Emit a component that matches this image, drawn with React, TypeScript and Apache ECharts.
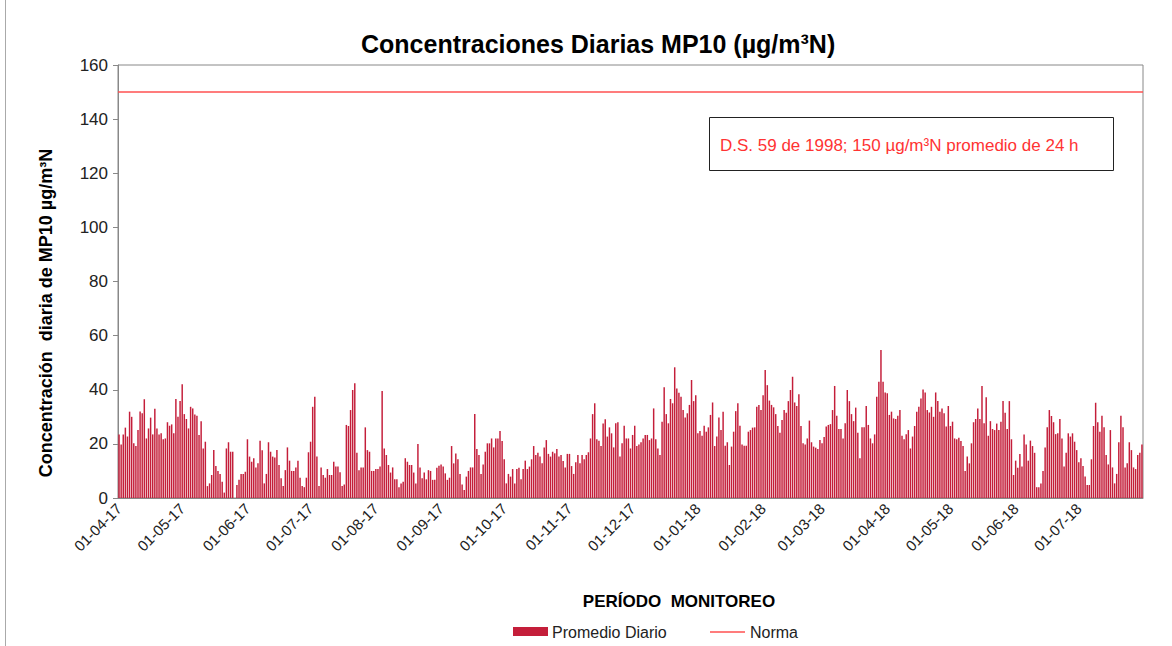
import React, { useEffect, useRef } from "react";
import * as echarts from "echarts";

// Daily PM10 values (µg/m³N), 01-04-2017 .. 31-07-2018
const APR_MAY_17 = [23.5,19.8,23.5,26,22.7,31.9,30,20.2,19.2,25.1,32,31.3,36.5,22,25.7,29.7,23.5,33,25.7,23.5,23.9,21.7,22,28,26.7,27.2,23.9,36.6,30,35.8,42,31,29.2,25.7,33.7,33.1,30.9,30.4,23.3,28.4,18.3,20.8,4.4];
const MAY_JUN_17 = [5.4,8.5,17.7,11.8,10,8.9,6,2,18.3,20.6,17.1,17.1,0,4.8,6.7,8.9,8.9,9.7,21.7,15.3,13.4,14.7,11.3,12.8,21.2,17.6,5.4,8.9,20.6,17.1,15.3,15,17.7,12.2,7.3,4.4,10.3,18.7,13.8,10,10,11.3,13.8,7.5];
const JUN_AUG_17 = [4.4,4,7.5,16.9,20.8,33.7,37.4,15.3,4.4,11.3,8.5,7.5,10.7,8.5,8.5,13.4,11.6,11.6,9.5,4.4,5,27,26.6,32.5,39.9,42.4,16.7,10.3,11.3,11.3,26.1,17.7,17.1,10,10,10.7,10.7,11.6,39.5,18.3,15.9,12.2,9.4,11.3,6.9];
const AUG_SEP_17 = [6.9,4,5.4,6,14.7,13.4,12.2,12.2,9.4,5.4,20,11.3,7.3,9.4,6.9,10.3,10,6.7,6.7,11.2,11.9,12.4,11.6,9.1,6.7,7.5,19.2,12.8,16.4,14.3,8.9,5,3,7.9,10,11.3,11.3,31,18.1,15.9,8.9,12.4,17.1,20.2,20.2];
const SEP_NOV_17 = [22,18.7,22,22,24.8,21.1,14.3,5.4,8.9,7.9,10.7,5.4,10.7,11.2,6.9,10.7,13.8,10.7,11.6,14.3,19.2,15.9,16.7,15.3,12.8,18.7,21.4,16.3,15.3,17.1,16.5,18.1,15.3,15.9,13.7,11.3,16.3,16.3,11.8,8.9,13.2,15.9,12.8,15.9,14.3];
const NOV_DEC_17 = [15.9,16.9,22,31,35,21.7,21.2,19.2,27.5,29.1,22.7,26.1,23.9,18.7,27.6,28,15.3,20.2,26.7,22,22,18.3,23.3,26.7,19.2,19.8,20.6,22,23.3,23.3,21.4,22,33.1,21.7,18.3,15.9,28.2,40.9,31,27.6,36.6,35,48.3,40.5];
const DEC_FEB_18 = [38.9,37.4,32.5,29.7,31.3,34.4,43.6,35.8,38,23.9,24.8,23,26.7,24.5,26.1,30.7,35.3,19.2,22.7,29.7,25.1,31.9,19.3,20.6,12.2,19,24.5,32.1,35,26.7,19.8,19.3,19.3,24.5,25.1,26,26.1,33.7,34.4,32.5,38,47.3,41.7,36,34.4];
const FEB_MAR_18 = [33.5,31,26.6,24.1,28.8,32.5,31.5,35.8,39.9,44.8,35.3,34,38.3,26.6,20.2,19.8,22,28.6,20.6,19,18.6,18.1,21.4,20.2,22.5,26.4,27,27.3,32.5,41.4,30.4,25.5,25.5,22,27.6,39.9,35.8,31,28.4,33.4,24.1,14.7,26.1,26.1];
const MAR_MAY_18 = [34,27,22,20.2,23.5,37.4,43,54.7,43,39,38.7,30.7,31.9,29.4,29.2,30.4,32.5,23,21.7,23.6,25.1,18.3,22.7,26.6,31.9,33.7,36.8,40.1,39,32.5,31.6,33.7,30,39,35.8,31.9,33.1,31.3,26.4,34,26.6,28.2,22,21.7,22.3];
const MAY_JUN_18 = [21.1,19.2,10,15.3,12.8,20.2,28,29.2,33.1,29.2,41.4,27.6,37.2,23,28.4,25.5,25.1,27.5,25.1,28.2,35.8,31.5,25.5,35.8,21.7,8.5,13.8,11.2,16.3,11.6,23.5,19.8,13.8,21.2,19.2,16.7,4,4,5.4,10,18.7,26.1,32.5,30.3];
const JUN_JUL_18 = [28,23.6,23.9,29.2,22,11.6,16.7,23.9,22.7,23.9,20.8,17.7,13.2,14.7,11.8,7.9,4.8,4.8,14.3,26.6,35.2,28,24.5,30.4,26.1,15.9,12.4,25.1,11.3,5.4,8.9,20.6,30.4,26.1,11.3,12.8,20.6,17.7,11.3,10.7,15.9,16.7,19.8];

const VALUES = [
  ...APR_MAY_17, ...MAY_JUN_17, ...JUN_AUG_17, ...AUG_SEP_17, ...SEP_NOV_17,
  ...NOV_DEC_17, ...DEC_FEB_18, ...FEB_MAR_18, ...MAR_MAY_18, ...MAY_JUN_18, ...JUN_JUL_18,
];

const NORMA = 150;
const START_DATE = Date.UTC(2017, 3, 1);
const Y_TICKS = { min: 0, max: 160, interval: 20 };
const LEGEND_NAMES = ["Promedio Diario", "Norma"];

const BAR_COLOR = "#c41e3a";
const NORM_COLOR = "#ff5050";

const pad = (n: number) => (n < 10 ? "0" + n : "" + n);
const DATES: string[] = VALUES.map((_, i) => {
  const d = new Date(START_DATE + i * 86400000);
  return `${pad(d.getUTCDate())}-${pad(d.getUTCMonth() + 1)}-${pad(d.getUTCFullYear() % 100)}`;
});

const isMonthStart = (_i: number, v: string) => v.startsWith("01-");

const FONT = "Liberation Sans, Arial, sans-serif";

export default function App() {
  const ref = useRef<HTMLDivElement>(null);
  useEffect(() => {
    const chart = echarts.init(ref.current!, null, { renderer: "svg" });
    chart.setOption({
      animation: false,
      backgroundColor: "#ffffff",
      textStyle: { fontFamily: FONT },
      title: {
        text: "Concentraciones Diarias MP10 (µg/m³N)",
        left: 356,
        top: 26,
        textStyle: { fontSize: 25, fontWeight: "bold", color: "#000", fontFamily: FONT },
      },
      grid: {
        left: 118,
        right: 29,
        top: 65,
        bottom: 148,
        show: true,
        borderColor: "#888",
        borderWidth: 1,
      },
      xAxis: {
        type: "category",
        data: DATES,
        boundaryGap: true,
        axisLine: { lineStyle: { color: "#888" } },
        axisTick: { interval: isMonthStart, length: 5, lineStyle: { color: "#888" } },
        axisLabel: {
          interval: isMonthStart,
          rotate: 45,
          fontSize: 15,
          color: "#222",
          margin: 8,
          fontFamily: FONT,
        },
        splitLine: { show: false },
      },
      yAxis: {
        type: "value",
        min: Y_TICKS.min,
        max: Y_TICKS.max,
        interval: Y_TICKS.interval,
        axisLine: { show: true, lineStyle: { color: "#888" } },
        axisTick: { show: true, length: 5, lineStyle: { color: "#888" } },
        axisLabel: { fontSize: 17, color: "#222", margin: 10, fontFamily: FONT },
        splitLine: { show: false },
      },
      graphic: [
        {
          type: "line",
          shape: { x1: 5.5, y1: 0, x2: 5.5, y2: 646 },
          style: { stroke: "#aaa", lineWidth: 1 },
        },
        {
          type: "rect",
          shape: { x: 709.5, y: 117.5, width: 404, height: 53 },
          style: { fill: "#fff", stroke: "#222", lineWidth: 1 },
          z: 10,
        },
        {
          type: "text",
          x: 720,
          y: 145,
          style: {
            text: "D.S. 59 de 1998; 150 µg/m³N promedio de 24 h",
            fill: "#ff3333",
            fontSize: 17,
            fontFamily: FONT,
            textVerticalAlign: "middle",
          },
          z: 11,
        },
        {
          type: "text",
          x: 46,
          y: 313,
          rotation: Math.PI / 2,
          style: {
            text: "Concentración  diaria de MP10 µg/m³N",
            fill: "#000",
            fontSize: 18,
            fontWeight: "bold",
            fontFamily: FONT,
            textAlign: "center",
            textVerticalAlign: "middle",
          },
        },
        {
          type: "text",
          x: 679,
          y: 601,
          style: {
            text: "PERÍODO  MONITOREO",
            fill: "#000",
            fontSize: 17,
            fontWeight: "bold",
            fontFamily: FONT,
            textAlign: "center",
            textVerticalAlign: "middle",
          },
        },
        // legend
        {
          type: "rect",
          shape: { x: 513, y: 627, width: 35, height: 9 },
          style: { fill: BAR_COLOR },
        },
        {
          type: "text",
          x: 552,
          y: 632,
          style: {
            text: LEGEND_NAMES[0],
            fill: "#222",
            fontSize: 16,
            fontFamily: FONT,
            textVerticalAlign: "middle",
          },
        },
        {
          type: "line",
          shape: { x1: 710, y1: 632, x2: 745, y2: 632 },
          style: { stroke: NORM_COLOR, lineWidth: 1.5 },
        },
        {
          type: "text",
          x: 750,
          y: 632,
          style: {
            text: LEGEND_NAMES[1],
            fill: "#222",
            fontSize: 16,
            fontFamily: FONT,
            textVerticalAlign: "middle",
          },
        },
      ],
      series: [
        {
          name: LEGEND_NAMES[0],
          type: "bar",
          data: VALUES,
          barCategoryGap: "30%",
          itemStyle: { color: BAR_COLOR },
        },
        {
          name: LEGEND_NAMES[1],
          type: "line",
          data: [],
          symbol: "none",
          itemStyle: { color: NORM_COLOR },
          lineStyle: { color: NORM_COLOR, width: 1.5 },
          markLine: {
            silent: true,
            symbol: ["none", "none"],
            label: { show: false },
            lineStyle: { color: NORM_COLOR, width: 1.5, type: "solid" },
            data: [{ yAxis: NORMA }],
          },
        },
      ],
    });
    return () => chart.dispose();
  }, []);
  return (
    <div
      ref={ref}
      style={{ position: "fixed", left: 0, top: 0, width: 1172, height: 646 }}
    />
  );
}
